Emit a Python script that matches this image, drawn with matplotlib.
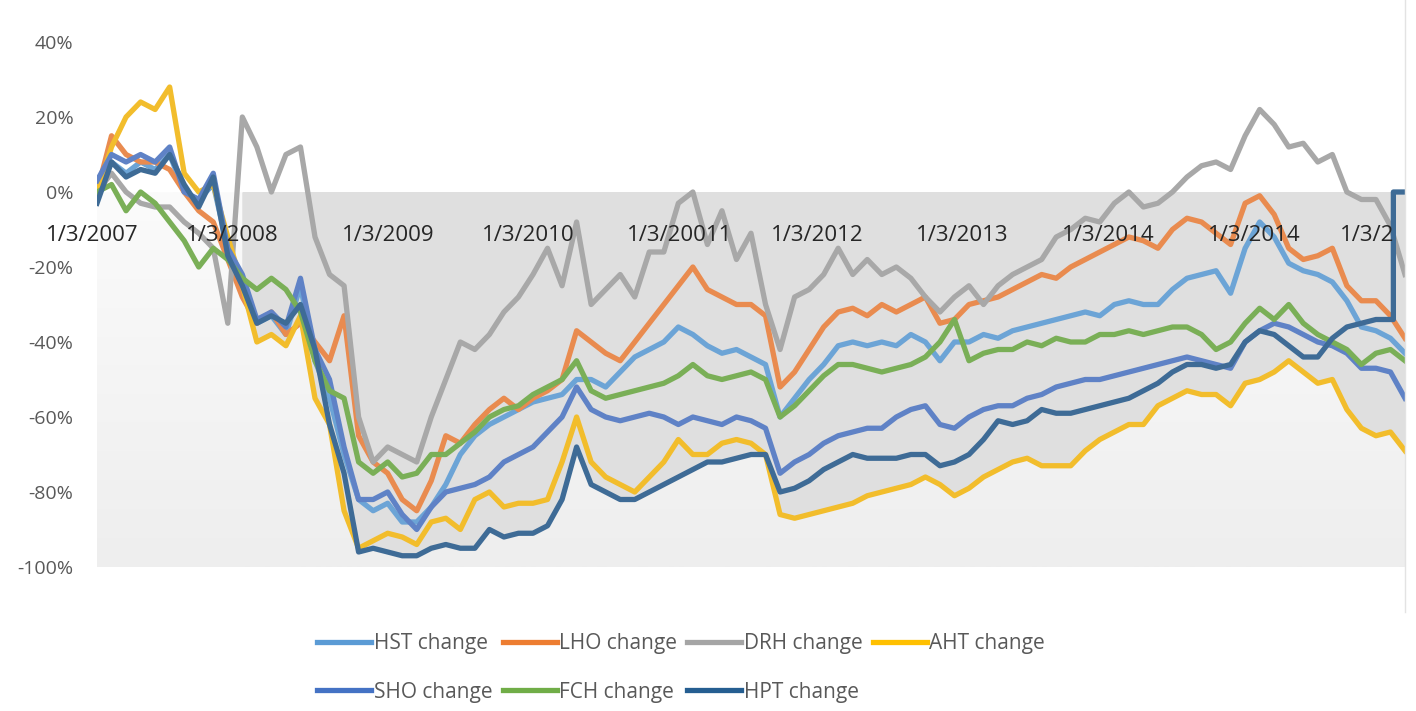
import numpy as np
import matplotlib.pyplot as plt
from matplotlib.colors import LinearSegmentedColormap
from matplotlib.lines import Line2D

plt.rcParams['font.family'] = ['Open Sans', 'DejaVu Sans']

# sample dates (fraction of year), one every ~0.1 year from 1/3/2007
dates = 2007 + np.arange(91) / 10

# % change since 1/3/2007
hst = [0, 8, 5, 8, 6, 10, 0, -2, 2, -15,
       -25, -35, -33, -38, -25, -45, -55, -70, -82, -85,
       -83, -88, -88, -84, -78, -70, -65, -62, -60, -58,
       -56, -55, -54, -50, -50, -52, -48, -44, -42, -40,
       -36, -38, -41, -43, -42, -44, -46, -60, -55, -50,
       -46, -41, -40, -41, -40, -41, -38, -40, -45, -40,
       -40, -38, -39, -37, -36, -35, -34, -33, -32, -33,
       -30, -29, -30, -30, -26, -23, -22, -21, -27, -15,
       -8, -12, -19, -21, -22, -24, -29, -36, -37, -39, -43]
lho = [0, 15, 10, 8, 8, 6, 0, -5, -8, -18,
       -28, -35, -32, -38, -35, -40, -45, -33, -65, -72,
       -75, -82, -85, -77, -65, -67, -62, -58, -55, -58,
       -55, -53, -50, -37, -40, -43, -45, -40, -35, -30,
       -25, -20, -26, -28, -30, -30, -33, -52, -48, -42,
       -36, -32, -31, -33, -30, -32, -30, -28, -35, -34,
       -30, -29, -28, -26, -24, -22, -23, -20, -18, -16,
       -14, -12, -13, -15, -10, -7, -8, -11, -14, -3,
       -1, -6, -15, -18, -17, -15, -25, -29, -29, -33, -39]
drh = [0, 5, 0, -3, -4, -4, -8, -11, -15, -35,
       20, 12, 0, 10, 12, -12, -22, -25, -60, -72,
       -68, -70, -72, -60, -50, -40, -42, -38, -32, -28,
       -22, -15, -25, -8, -30, -26, -22, -28, -16, -16,
       -3, 0, -14, -5, -18, -11, -30, -42, -28, -26,
       -22, -15, -22, -18, -22, -20, -23, -28, -32, -28,
       -25, -30, -25, -22, -20, -18, -12, -10, -7, -8,
       -3, 0, -4, -3, 0, 4, 7, 8, 6, 15,
       22, 18, 12, 13, 8, 10, 0, -2, -2, -9, -22]
aht = [0, 12, 20, 24, 22, 28, 5, 0, 2, -12,
       -25, -40, -38, -41, -33, -55, -62, -85, -95, -93,
       -91, -92, -94, -88, -87, -90, -82, -80, -84, -83,
       -83, -82, -72, -60, -72, -76, -78, -80, -76, -72,
       -66, -70, -70, -67, -66, -67, -70, -86, -87, -86,
       -85, -84, -83, -81, -80, -79, -78, -76, -78, -81,
       -79, -76, -74, -72, -71, -73, -73, -73, -69, -66,
       -64, -62, -62, -57, -55, -53, -54, -54, -57, -51,
       -50, -48, -45, -48, -51, -50, -58, -63, -65, -64, -69]
sho = [3, 10, 8, 10, 8, 12, 0, -2, 5, -15,
       -22, -34, -32, -36, -23, -42, -50, -68, -82, -82,
       -80, -86, -90, -84, -80, -79, -78, -76, -72, -70,
       -68, -64, -60, -52, -58, -60, -61, -60, -59, -60,
       -62, -60, -61, -62, -60, -61, -63, -75, -72, -70,
       -67, -65, -64, -63, -63, -60, -58, -57, -62, -63,
       -60, -58, -57, -57, -55, -54, -52, -51, -50, -50,
       -49, -48, -47, -46, -45, -44, -45, -46, -47, -40,
       -37, -35, -36, -38, -40, -41, -43, -47, -47, -48, -55]
fch = [0, 2, -5, 0, -3, -8, -13, -20, -15, -18,
       -23, -26, -23, -26, -32, -45, -53, -55, -72, -75,
       -72, -76, -75, -70, -70, -67, -64, -60, -58, -57,
       -54, -52, -50, -45, -53, -55, -54, -53, -52, -51,
       -49, -46, -49, -50, -49, -48, -50, -60, -57, -53,
       -49, -46, -46, -47, -48, -47, -46, -44, -40, -34,
       -45, -43, -42, -42, -40, -41, -39, -40, -40, -38,
       -38, -37, -38, -37, -36, -36, -38, -42, -40, -35,
       -31, -34, -30, -35, -38, -40, -42, -46, -43, -42, -45]
hpt = [-3, 8, 4, 6, 5, 10, 2, -4, 4, -17,
       -25, -35, -33, -35, -30, -42, -62, -75, -96, -95,
       -96, -97, -97, -95, -94, -95, -95, -90, -92, -91,
       -91, -89, -82, -68, -78, -80, -82, -82, -80, -78,
       -76, -74, -72, -72, -71, -70, -70, -80, -79, -77,
       -74, -72, -70, -71, -71, -71, -70, -70, -73, -72,
       -70, -66, -61, -62, -61, -58, -59, -59, -58, -57,
       -56, -55, -53, -51, -48, -46, -46, -47, -46, -40,
       -37, -38, -41, -44, -44, -39, -36, -35, -34, -34]
# HPT series ends with a jump back to 0
hpt_tail_dates = [2015.92, 2015.92, 2016.0]
hpt_tail = [-34, 0, 0]

names = ['HST change', 'LHO change', 'DRH change', 'AHT change',
         'SHO change', 'FCH change', 'HPT change']
colors = ['#5B9BD5', '#ED7D31', '#A5A5A5', '#FFC000',
          '#4472C4', '#70AD47', '#255E91']
line_colors = ['#6CA4D6', '#E98B4F', '#A8A8A8', '#F2BD2C',
               '#5F82C6', '#7AAF57', '#3E6B96']

label_pos = [2006.966, 2007.929, 2009.003, 2009.966, 2011.012,
             2011.955, 2012.953, 2013.958, 2014.963]
label_txt = ['1/3/2007', '1/3/2008', '1/3/2009', '1/3/2010', '1/3/20011',
             '1/3/2012', '1/3/2013', '1/3/2014', '1/3/2014']
last_label_pos = 2015.555
last_label = '1/3/2'

yticks = [-100, -80, -60, -40, -20, 0, 20, 40]

fig = plt.figure(figsize=(14.16, 7.11), dpi=100)
ax = fig.add_axes([97 / 1416, 144 / 711, 1308 / 1416, 525 / 711])

# light gradient background below zero
cmap = LinearSegmentedColormap.from_list('bg', ['#fbfbfb', '#eeeeee'])
ax.imshow(np.linspace(0, 1, 256).reshape(-1, 1), extent=(2007, 2016, -100, 0),
          cmap=cmap, aspect='auto', zorder=0)

series_dates = [dates] * 6 + [np.append(dates[:90], hpt_tail_dates)]
series_vals = [hst, lho, drh, aht, sho, fch, hpt + hpt_tail]

# darker fill between zero and the lowest line (from 2008 on)
for d, v in zip(series_dates, series_vals):
    d = np.asarray(d)
    v = np.asarray(v, dtype=float)
    ax.fill_between(d, 0, np.minimum(v, 0), where=d >= 2008.0,
                    color='#dfdfdf', lw=0, zorder=1)

for d, v, c in zip(series_dates, series_vals, line_colors):
    ax.plot(d, v, color=c, lw=3.8, solid_joinstyle='round', zorder=3)

ax.set_xlim(2007, 2016)
ax.set_ylim(-100, 40)
ax.set_xticks([])
ax.set_yticks(yticks)
ax.set_yticklabels([f'{t}%' for t in yticks], color='#595959', fontsize=14)
ax.tick_params(axis='y', length=0, pad=17)
for s in ax.spines.values():
    s.set_visible(False)

for p, t in zip(label_pos, label_txt):
    ax.text(p, -11.5, t, ha='center', va='center', fontsize=16,
            color='#262626', zorder=5, clip_on=False)
ax.text(last_label_pos, -11.5, last_label, ha='left', va='center', fontsize=16,
        color='#262626', zorder=5, clip_on=False)

# right border line
fig.add_artist(Line2D([1405 / 1416, 1405 / 1416], [99 / 711, 1.0],
                      color='#e3e3e3', lw=1))

order = [0, 4, 1, 5, 2, 6, 3]
handles = [Line2D([], [], color=colors[i], lw=3.8) for i in order]
labels = [names[i] for i in order]
fig.legend(handles, labels, ncol=4, loc='center',
           bbox_to_anchor=(681 / 1416, 1 - 668 / 711), frameon=False,
           fontsize=15, labelcolor='#595959', handlelength=2.6,
           handletextpad=0.1, columnspacing=0.5, labelspacing=1.3)

fig.savefig('out.png', dpi=100, facecolor='white')
